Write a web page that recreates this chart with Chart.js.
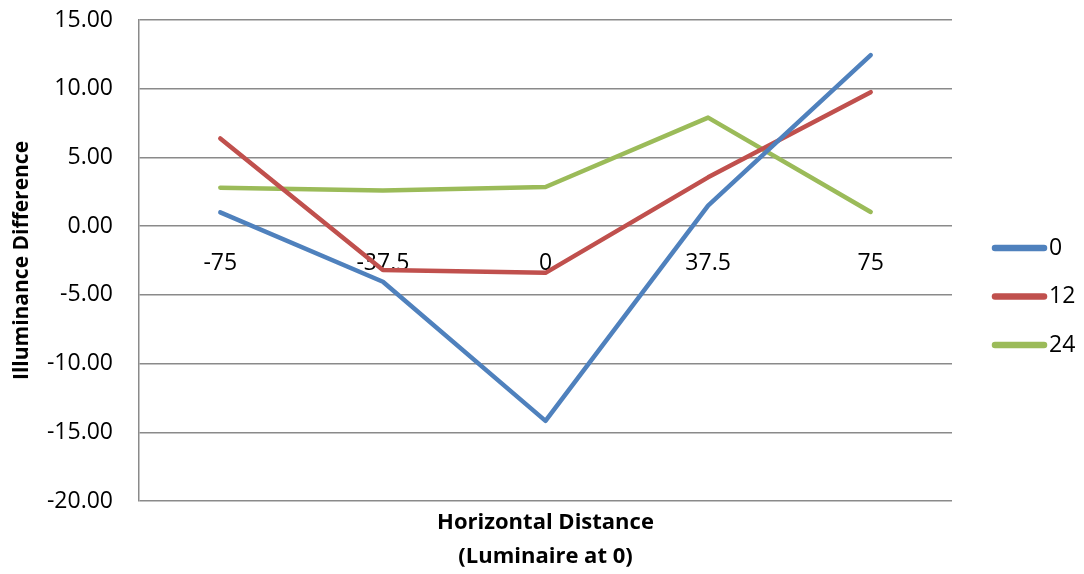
<!DOCTYPE html>
<html><head><meta charset="utf-8">
<script src="https://cdn.jsdelivr.net/npm/chart.js@4.4.1/dist/chart.umd.min.js"></script>
<style>html,body{margin:0;padding:0;background:#fff;}#wrap{width:1084px;height:574px;}</style>
</head><body><div id="wrap"><canvas id="c" width="1084" height="574"></canvas></div>
<script>
const categories = ['-75', '-37.5', '0', '37.5', '75'];
const seriesNames = ['0', '12', '24'];
const series0 = [1.0, -4.05, -14.17, 1.5, 12.45];
const series12 = [6.38, -3.2, -3.4, 3.55, 9.75];
const series24 = [2.8, 2.6, 2.85, 7.9, 1.03];
const yTicks = [-20, -15, -10, -5, 0, 5, 10, 15];
const colors = ['#4F81BD', '#C0504D', '#9BBB59'];
const xTitle = ['Horizontal Distance', '(Luminaire at 0)'];
const yTitle = 'Illuminance Difference';

const FONT = "'Open Sans', sans-serif";
const GRID = '#8a8a8a';

const legendPlugin = {
  id: 'customLegend',
  afterDraw(chart) {
    const ctx = chart.ctx;
    ctx.save();
    chart.data.datasets.forEach((ds, i) => {
      const y = 248 + i * 48.5;
      ctx.strokeStyle = ds.borderColor;
      ctx.lineWidth = 6.5;
      ctx.lineCap = 'round';
      ctx.beginPath(); ctx.moveTo(995, y); ctx.lineTo(1044, y); ctx.stroke();
      ctx.fillStyle = '#000';
      ctx.font = '23px ' + FONT;
      ctx.textAlign = 'left';
      ctx.textBaseline = 'middle';
      ctx.fillText(ds.label, 1049, y);
    });
    ctx.font = 'bold 22px ' + FONT;
    ctx.textAlign = 'center';
    ctx.textBaseline = 'middle';
    ctx.fillStyle = '#000';
    const cx = (chart.chartArea.left + chart.chartArea.right) / 2;
    ctx.fillText(xTitle[0], cx, 523);
    ctx.fillText(xTitle[1], cx, 557);
    ctx.restore();
  }
};

new Chart(document.getElementById('c'), {
  type: 'line',
  data: {
    labels: categories,
    datasets: [series0, series12, series24].map((d, i) => ({
      label: seriesNames[i],
      data: d,
      borderColor: colors[i],
      backgroundColor: colors[i],
      borderWidth: 4.5,
      borderCapStyle: 'round',
      borderJoinStyle: 'round',
      pointRadius: 0,
      tension: 0,
      fill: false
    }))
  },
  options: {
    responsive: false,
    animation: false,
    layout: { padding: { left: 0, right: 132, top: 20, bottom: 73 } },
    plugins: { legend: { display: false }, tooltip: { enabled: false }, title: { display: false } },
    scales: {
      x: {
        type: 'category',
        offset: true,
        position: { y: 0 },
        afterFit: (s) => { s.height = 0; },
        grid: { display: false, drawTicks: false },
        border: { display: false },
        ticks: { color: '#000', font: { family: FONT, size: 23 }, padding: 24, maxRotation: 0, autoSkip: false }
      },
      y: {
        min: -20, max: 15,
        afterBuildTicks: (s) => { s.ticks = yTicks.map(v => ({ value: v })); },
        afterFit: (s) => { s.width = 139; },
        grid: { color: GRID, lineWidth: 1.5, drawTicks: true, tickLength: 26, tickColor: 'rgba(0,0,0,0)' },
        border: { display: true, color: GRID, width: 1.5 },
        ticks: { color: '#000', font: { family: FONT, size: 23 }, padding: 0, callback: (v) => Number(v).toFixed(2) },
        title: { display: true, text: yTitle, color: '#000', font: { family: FONT, size: 21, weight: 'bold' }, padding: { top: 9, bottom: 0 } }
      }
    }
  },
  plugins: [legendPlugin]
});
</script>
</body></html>
